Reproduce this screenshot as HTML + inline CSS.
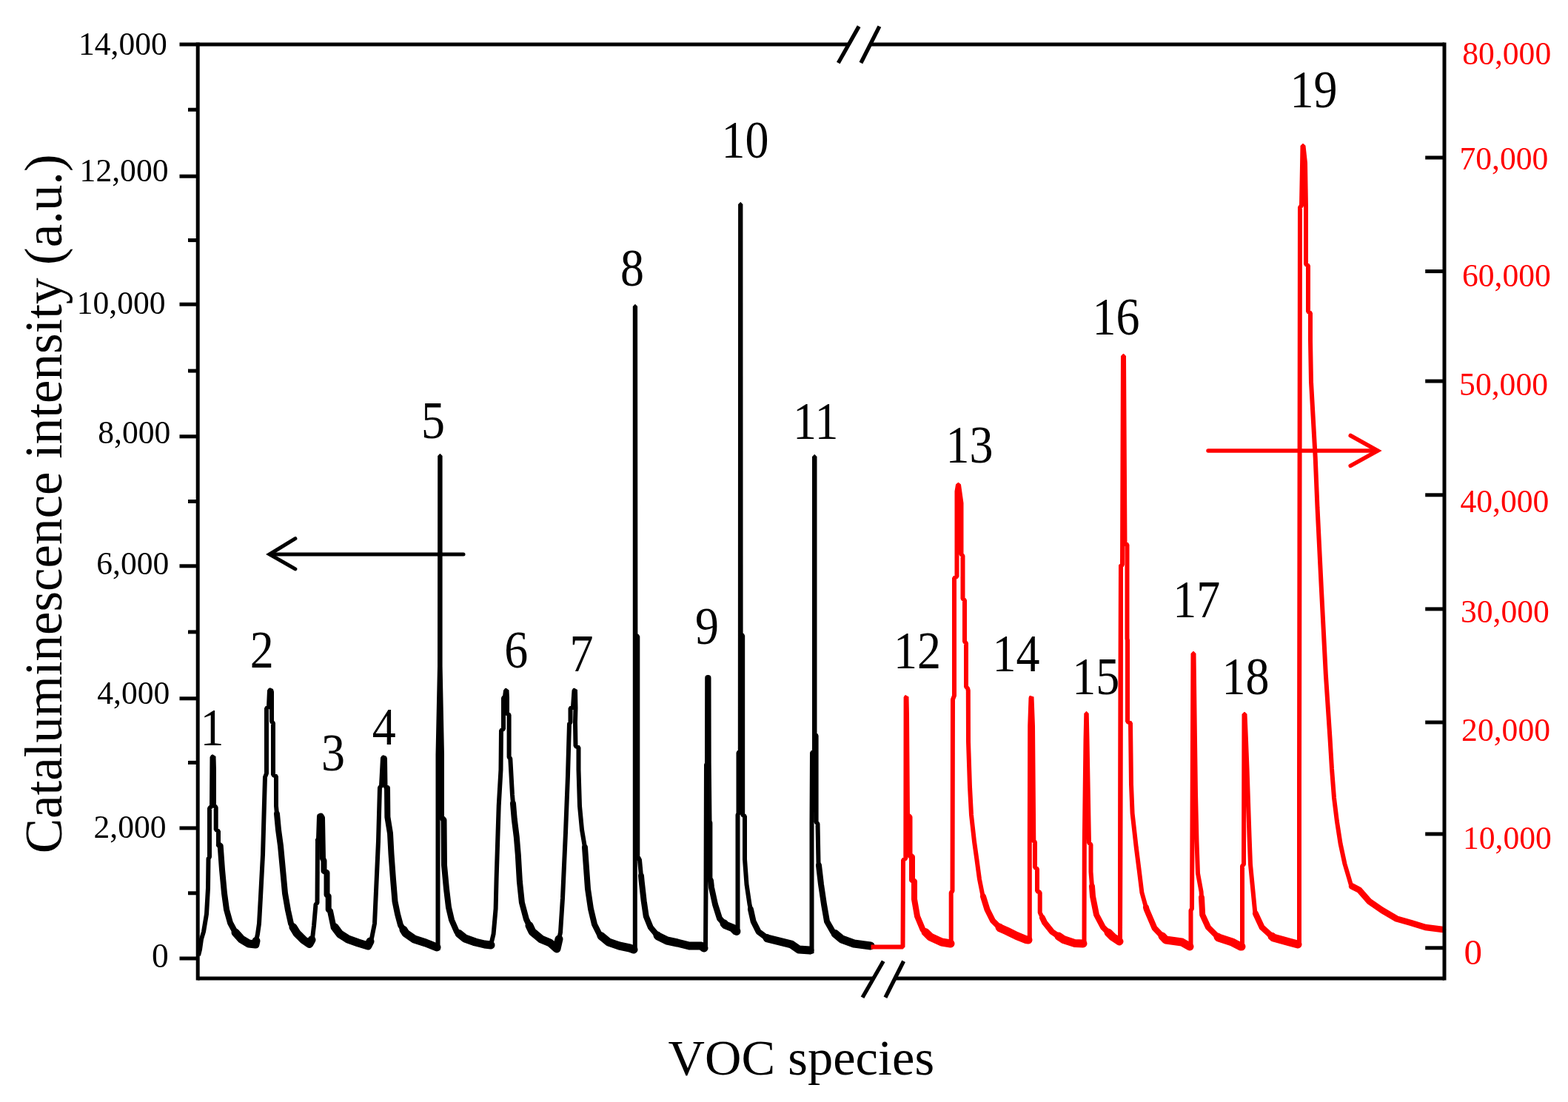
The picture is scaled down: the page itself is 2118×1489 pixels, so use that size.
<!DOCTYPE html><html><head><meta charset="utf-8"><title>VOC species chart</title>
<style>html,body{margin:0;padding:0;background:#fff;overflow:hidden;}svg{display:block;}text{font-family:"Liberation Serif",serif;}</style></head><body>
<svg width="2118" height="1489" viewBox="0 0 2118 1489">
<rect width="2118" height="1489" fill="#fff"/>
<polyline points="268,1291 270,1283 272,1269 275,1259 279,1235 281,1200 281.5,1160 283,1158 283,1092 286,1089 286.5,1023 288.5,1022 289,1040 289,1088 291.7,1091 291.7,1121 295,1123 295,1141 297.7,1143 300,1175 303,1207 306,1229 311,1247 318,1260 326,1269 336,1275 345,1276 348,1262 350,1248 352,1212 355,1155 358,1050 360,1045 360,957 363,955 364,933 366,932 367,935 367,975 369,977 369,1047 373,1049 373,1089 376,1121 379,1143 382,1175 385,1207 389,1230 393,1248 401,1261 410,1270 418,1275.5 422,1268 424,1251 426.5,1222 428.5,1220 429,1136 431,1134 432,1103 433.5,1102.5 435,1105 436,1160 437.5,1163 437.5,1177 441.5,1179 441.5,1209 443.7,1211 443.7,1229 446,1231 450,1250 459,1262 470,1269 484,1274 497,1278 502,1268 506,1248 508,1204 511,1137 513,1064 515,1062 517,1024 519,1023 520,1025 520.5,1063 523,1065 523.4,1104 527,1126 528.5,1154 531,1188 533.5,1218 537,1235 541,1250 548,1261 559.5,1269 575,1274 590,1280 591.5,1284 591.5,1020 594,900 594.2,616 594.6,616 594.6,900 597,1020 597,1105 599.5,1108 600,1169 603,1201 606,1226 610,1243 617,1259 628,1268 642,1273 654.5,1276 663,1277 666.6,1262 669.6,1228 670.6,1187 673.7,1089 676.5,1040 677,987 680,985 680,943 682,941 683,933 684.5,932.6 685,943 685,964 687.6,966 687.6,1023 689.3,1025 692,1074 694.8,1107 697.8,1131 699.8,1155 701.9,1191 704.9,1219.5 710.9,1242 719,1259 731,1269 743,1274 752,1282 757,1260 760,1213.5 764,1125 767,1048 769,978 770.5,976 770.5,957 774,955 775.5,933 777,932 777.5,957 777,976 777.5,1008 781.5,1010 781.5,1040 783,1089 786,1121 790,1145 792,1173 794,1201 798,1228 803,1249 810,1263 822,1273 836.5,1278 850.6,1281 856,1283 857.8,1285 857.8,860 857.8,414 858.1,414 858.4,858 861.3,860 861.3,1157 864,1162 866.7,1191 869.7,1217.5 872.7,1238 878.8,1253 888.8,1265 901,1271 915,1274 931,1278 947,1278 951,1281 953,1282 953.5,1200 954,1033 956,1031 956.2,916 956.5,916 956.7,1031 957.5,1110 958.4,1112 958.4,1187 960,1190 961,1199 966,1222 972,1241 980,1250 990,1254 994,1258 996.5,1259 996.5,1101 997.5,1099 997.5,1017 999.8,1015 1000.1,276 1000.4,276 1000.6,857 1003.2,859 1003.2,1101 1006,1103 1006,1161 1008.5,1195 1012.5,1222 1017.6,1245 1024.6,1259 1036.7,1268 1052.8,1272 1068.9,1276 1079,1283 1094,1284 1096.5,1288 1096.5,1111 1097,1017 1100,1015 1100,617 1100.5,617 1100.5,992 1102.6,994 1102.6,1111 1104.5,1113 1105.5,1165 1109,1195 1113,1222 1117,1245 1125,1259 1137,1269 1153.5,1275 1176.5,1278" fill="none" stroke="#000" stroke-width="6.0" stroke-linejoin="bevel"/>
<polyline points="296,1141.74 297.7,1143 300,1175 303,1207 306,1229 311,1247 318,1260 326,1269 336,1275 345,1276 346,1271.33" fill="none" stroke="#000" stroke-width="8" stroke-linejoin="round" stroke-linecap="round"/>
<polyline points="374,1099.67 376,1121 379,1143 382,1175 385,1207 389,1230 393,1248 401,1261 410,1270 418,1275.5 421,1269.88" fill="none" stroke="#000" stroke-width="8" stroke-linejoin="round" stroke-linecap="round"/>
<polyline points="430,1135 431,1134 432,1103 433.5,1102.5 435,1105 436,1160 437.5,1163 437.5,1177 441.5,1179 441.5,1209 443.7,1211 443.7,1229 446,1231 450,1250 459,1262 470,1269 484,1274 497,1278 500,1272" fill="none" stroke="#000" stroke-width="8" stroke-linejoin="round" stroke-linecap="round"/>
<polyline points="523,1065 523,1065 523.4,1104 527,1126 528.5,1154 531,1188 533.5,1218 537,1235 541,1250 548,1261 559.5,1269 575,1274 590,1280 590,1280" fill="none" stroke="#000" stroke-width="8" stroke-linejoin="round" stroke-linecap="round"/>
<polyline points="598,1106.2 599.5,1108 600,1169 603,1201 606,1226 610,1243 617,1259 628,1268 642,1273 654.5,1276 663,1277 663,1277" fill="none" stroke="#000" stroke-width="8" stroke-linejoin="round" stroke-linecap="round"/>
<polyline points="693,1085.79 694.8,1107 697.8,1131 699.8,1155 701.9,1191 704.9,1219.5 710.9,1242 719,1259 731,1269 743,1274 752,1282 755,1268.8" fill="none" stroke="#000" stroke-width="8" stroke-linejoin="round" stroke-linecap="round"/>
<polyline points="790,1145 790,1145 792,1173 794,1201 798,1228 803,1249 810,1263 822,1273 836.5,1278 850.6,1281 856,1283 856,1283" fill="none" stroke="#000" stroke-width="8" stroke-linejoin="round" stroke-linecap="round"/>
<polyline points="866,1183.48 866.7,1191 869.7,1217.5 872.7,1238 878.8,1253 888.8,1265 901,1271 915,1274 931,1278 947,1278 951,1281 951,1281" fill="none" stroke="#000" stroke-width="8" stroke-linejoin="round" stroke-linecap="round"/>
<polyline points="956,1031 956,1031 956.2,916 956.5,916 956.7,1031 957.5,1110 958.4,1112 958.4,1187 960,1190 961,1199 966,1222 972,1241 980,1250 990,1254 994,1258 995,1258.4" fill="none" stroke="#000" stroke-width="8" stroke-linejoin="round" stroke-linecap="round"/>
<polyline points="1014,1228.76 1017.6,1245 1024.6,1259 1036.7,1268 1052.8,1272 1068.9,1276 1079,1283 1094,1284 1094,1284" fill="none" stroke="#000" stroke-width="8" stroke-linejoin="round" stroke-linecap="round"/>
<polyline points="1106,1169.29 1109,1195 1113,1222 1117,1245 1125,1259 1137,1269 1153.5,1275 1176,1277.93" fill="none" stroke="#000" stroke-width="8" stroke-linejoin="round" stroke-linecap="round"/>
<polyline points="318,1260 318,1260 326,1269 336,1275 345,1276 346,1271.33" fill="none" stroke="#000" stroke-width="11" stroke-linejoin="round" stroke-linecap="round"/>
<polyline points="396,1252.88 401,1261 410,1270 418,1275.5 421,1269.88" fill="none" stroke="#000" stroke-width="11" stroke-linejoin="round" stroke-linecap="round"/>
<polyline points="452,1252.67 459,1262 470,1269 484,1274 497,1278 500,1272" fill="none" stroke="#000" stroke-width="11" stroke-linejoin="round" stroke-linecap="round"/>
<polyline points="545,1256.29 548,1261 559.5,1269 575,1274 590,1280 590,1280" fill="none" stroke="#000" stroke-width="11" stroke-linejoin="round" stroke-linecap="round"/>
<polyline points="620,1261.45 628,1268 642,1273 654.5,1276 663,1277 663,1277" fill="none" stroke="#000" stroke-width="11" stroke-linejoin="round" stroke-linecap="round"/>
<polyline points="715,1250.6 719,1259 731,1269 743,1274 752,1282 755,1268.8" fill="none" stroke="#000" stroke-width="11" stroke-linejoin="round" stroke-linecap="round"/>
<polyline points="812,1264.67 822,1273 836.5,1278 850.6,1281 856,1283 856,1283" fill="none" stroke="#000" stroke-width="11" stroke-linejoin="round" stroke-linecap="round"/>
<polyline points="888,1264.04 888.8,1265 901,1271 915,1274 931,1278 947,1278 951,1281 951,1281" fill="none" stroke="#000" stroke-width="11" stroke-linejoin="round" stroke-linecap="round"/>
<polyline points="978,1247.75 980,1250 990,1254 994,1258 995,1258.4" fill="none" stroke="#000" stroke-width="11" stroke-linejoin="round" stroke-linecap="round"/>
<polyline points="1036,1267.48 1036.7,1268 1052.8,1272 1068.9,1276 1079,1283 1094,1284 1094,1284" fill="none" stroke="#000" stroke-width="11" stroke-linejoin="round" stroke-linecap="round"/>
<polyline points="1128,1261.5 1137,1269 1153.5,1275 1176,1277.93" fill="none" stroke="#000" stroke-width="11" stroke-linejoin="round" stroke-linecap="round"/>
<polyline points="1176.5,1279.5 1219.5,1279.5 1220,1162 1223.3,1160 1223.6,942 1224.5,941.5 1225,966 1226,1102 1228.5,1104 1228.5,1155 1232,1158 1232,1189 1235,1191 1235,1215 1239,1238 1246.5,1256 1256.7,1266 1272,1273 1284,1275 1284.7,1275 1284.7,1206 1286.5,1204 1287,945 1289,940 1289,781 1292.5,779 1292.5,664 1294,655 1295,655 1298.5,680 1298.5,749 1300.5,751 1300.5,809 1303,811 1303,867 1305,869 1305,928 1307,930 1307.8,933 1308,1002 1310,1063 1312,1101 1316,1137 1319.5,1162 1323,1188 1327,1208 1333.5,1229 1341,1244 1351,1254 1360,1258 1373,1264.4 1385.5,1269.5 1389,1270 1390.8,1271 1390.8,1137 1391.2,981 1392.5,943 1393.5,941.5 1395,981 1396.3,1136 1398,1138 1398,1172 1401,1174 1401,1204 1404.7,1206 1404.7,1233 1411,1246.5 1421,1259 1436.5,1269.5 1452,1274.6 1463,1275 1464.5,1275 1464.8,1140 1466.5,1000 1467.3,964 1467.7,964 1468.5,1000 1471,1139 1473.5,1141 1473.5,1178 1476,1211 1481,1236 1490,1253 1503,1266 1512,1272 1513,1272 1514,765 1516,763 1517,481 1518,481 1519.5,734 1522.5,736 1522.5,863 1523,865 1523,975 1527,977 1528,1060 1529.6,1099 1534.7,1144.5 1538.6,1175 1542.4,1206 1548.8,1229 1559.5,1254 1574.7,1270 1596.4,1273 1607,1279 1608.5,1279 1608.5,1230 1610,1228 1611.5,883 1612.5,883 1614,1000 1615,1072 1616.5,1137 1618,1180 1622.6,1205 1624.2,1236 1632,1253 1646,1267 1664.4,1273 1676,1279 1678,1279 1678,1170 1680,1168 1680.5,965 1681.5,965 1683,1000 1684.5,1038 1687.6,1131 1689,1168 1692,1199 1695.3,1233 1704.6,1253 1720,1267 1741.7,1273 1753,1276 1755,1276 1755,1060 1756,280 1758,278 1759.5,197 1760.5,197 1763,220 1764,280 1764,357 1767,359 1767,421 1770,423 1770,460 1771,516 1776.7,618 1779.5,686 1785,798 1790.8,911 1796.4,996 1799,1039 1802,1078 1805.8,1109 1810.6,1140 1816.5,1167.5 1822.3,1187 1825.2,1197 1836,1202.5 1849.6,1218 1867,1230 1886.6,1241.5 1906,1247 1925.5,1253 1949,1256" fill="none" stroke="#f00" stroke-width="6.0" stroke-linejoin="bevel"/>
<polyline points="1228,1103.6 1228.5,1104 1228.5,1155 1232,1158 1232,1189 1235,1191 1235,1215 1239,1238 1246.5,1256 1256.7,1266 1272,1273 1284,1275 1284,1275" fill="none" stroke="#f00" stroke-width="8" stroke-linejoin="round" stroke-linecap="round"/>
<polyline points="1328,1211.23 1333.5,1229 1341,1244 1351,1254 1360,1258 1373,1264.4 1385.5,1269.5 1389,1270 1389,1270" fill="none" stroke="#f00" stroke-width="8" stroke-linejoin="round" stroke-linecap="round"/>
<polyline points="1408,1240.07 1411,1246.5 1421,1259 1436.5,1269.5 1452,1274.6 1463,1275 1463,1275" fill="none" stroke="#f00" stroke-width="8" stroke-linejoin="round" stroke-linecap="round"/>
<polyline points="1475,1197.8 1476,1211 1481,1236 1490,1253 1503,1266 1512,1272 1512,1272" fill="none" stroke="#f00" stroke-width="8" stroke-linejoin="round" stroke-linecap="round"/>
<polyline points="1548,1226.12 1548.8,1229 1559.5,1254 1574.7,1270 1596.4,1273 1607,1279 1607,1279" fill="none" stroke="#f00" stroke-width="8" stroke-linejoin="round" stroke-linecap="round"/>
<polyline points="1623,1212.75 1624.2,1236 1632,1253 1646,1267 1664.4,1273 1676,1279 1677,1279" fill="none" stroke="#f00" stroke-width="8" stroke-linejoin="round" stroke-linecap="round"/>
<polyline points="1696,1234.51 1704.6,1253 1720,1267 1741.7,1273 1753,1276 1753,1276" fill="none" stroke="#f00" stroke-width="8" stroke-linejoin="round" stroke-linecap="round"/>
<polyline points="1250,1259.43 1256.7,1266 1272,1273 1284,1275 1284,1275" fill="none" stroke="#f00" stroke-width="11" stroke-linejoin="round" stroke-linecap="round"/>
<polyline points="1350,1253 1351,1254 1360,1258 1373,1264.4 1385.5,1269.5 1389,1270 1389,1270" fill="none" stroke="#f00" stroke-width="11" stroke-linejoin="round" stroke-linecap="round"/>
<polyline points="1430,1265.1 1436.5,1269.5 1452,1274.6 1463,1275 1463,1275" fill="none" stroke="#f00" stroke-width="11" stroke-linejoin="round" stroke-linecap="round"/>
<polyline points="1497,1260 1503,1266 1512,1272 1512,1272" fill="none" stroke="#f00" stroke-width="11" stroke-linejoin="round" stroke-linecap="round"/>
<polyline points="1570,1265.05 1574.7,1270 1596.4,1273 1607,1279 1607,1279" fill="none" stroke="#f00" stroke-width="11" stroke-linejoin="round" stroke-linecap="round"/>
<polyline points="1645,1266 1646,1267 1664.4,1273 1676,1279 1677,1279" fill="none" stroke="#f00" stroke-width="11" stroke-linejoin="round" stroke-linecap="round"/>
<polyline points="1718,1265.18 1720,1267 1741.7,1273 1753,1276 1753,1276" fill="none" stroke="#f00" stroke-width="11" stroke-linejoin="round" stroke-linecap="round"/>
<polyline points="1826,1197.41 1836,1202.5 1849.6,1218 1867,1230 1886.6,1241.5 1906,1247 1925.5,1253 1949,1256" fill="none" stroke="#f00" stroke-width="8.5" stroke-linejoin="round" stroke-linecap="round"/>
<g stroke="#000" stroke-width="5" fill="none" stroke-linecap="square"><line x1="267.2" y1="60" x2="267.2" y2="1322"/><line x1="1951" y1="60" x2="1951" y2="1322"/><line x1="267.2" y1="60" x2="1146.4" y2="60" stroke-linecap="butt"/><line x1="1175.6" y1="60" x2="1951" y2="60" stroke-linecap="butt"/><line x1="267.2" y1="1322" x2="1179.8" y2="1322" stroke-linecap="butt"/><line x1="1208.9" y1="1322" x2="1951" y2="1322" stroke-linecap="butt"/></g><g stroke="#000" stroke-width="5.3" stroke-linecap="butt"><line x1="1132.3" y1="85" x2="1160.2" y2="35.6"/><line x1="1162.9" y1="85" x2="1187.9" y2="35.6"/><line x1="1165" y1="1347.7" x2="1193.2" y2="1298.8"/><line x1="1195.9" y1="1347.7" x2="1220.6" y2="1298.8"/></g><g stroke="#000" stroke-width="5"><line x1="242.5" y1="1295" x2="267.2" y2="1295"/><line x1="242.5" y1="1118.9" x2="267.2" y2="1118.9"/><line x1="242.5" y1="943.8" x2="267.2" y2="943.8"/><line x1="242.5" y1="764.8" x2="267.2" y2="764.8"/><line x1="242.5" y1="589.8" x2="267.2" y2="589.8"/><line x1="242.5" y1="411.2" x2="267.2" y2="411.2"/><line x1="242.5" y1="238.2" x2="267.2" y2="238.2"/><line x1="242.5" y1="60" x2="267.2" y2="60"/><line x1="254" y1="1206.8" x2="267.2" y2="1206.8"/><line x1="254" y1="1030.4" x2="267.2" y2="1030.4"/><line x1="254" y1="853.9" x2="267.2" y2="853.9"/><line x1="254" y1="677.5" x2="267.2" y2="677.5"/><line x1="254" y1="501.1" x2="267.2" y2="501.1"/><line x1="254" y1="324.6" x2="267.2" y2="324.6"/><line x1="254" y1="148.2" x2="267.2" y2="148.2"/><line x1="1925.2" y1="1280.8" x2="1951" y2="1280.8"/><line x1="1925.2" y1="1126.9" x2="1951" y2="1126.9"/><line x1="1925.2" y1="976" x2="1951" y2="976"/><line x1="1925.2" y1="822.9" x2="1951" y2="822.9"/><line x1="1925.2" y1="668.8" x2="1951" y2="668.8"/><line x1="1925.2" y1="515" x2="1951" y2="515"/><line x1="1925.2" y1="366.6" x2="1951" y2="366.6"/><line x1="1925.2" y1="213" x2="1951" y2="213"/></g>
<g font-size="43.6" fill="#000"><text x="105.9" y="74.4">14,000</text><text x="107.6" y="244.6">12,000</text><text x="103.7" y="423.8">10,000</text><text x="132.3" y="598.8">8,000</text><text x="130.2" y="775.9">6,000</text><text x="131.2" y="950.8">4,000</text><text x="126.5" y="1131.6">2,000</text></g><g font-size="43.6" fill="#f00"><text x="1975.3" y="86.6">80,000</text><text x="1971.5" y="228.6">70,000</text><text x="1974.9" y="386.5">60,000</text><text x="1971.1" y="534.1">50,000</text><text x="1972.4" y="692.4">40,000</text><text x="1973.0" y="840.8">30,000</text><text x="1974.1" y="1000.5">20,000</text><text x="1976.0" y="1146.7">10,000</text></g><text x="205.1" y="1306.5" font-size="45.5" fill="#000">0</text><text x="1977.4" y="1302.5" font-size="49" fill="#f00">0</text>
<text transform="translate(82.5,1153.3) rotate(-90) scale(1,1.02)" font-size="70.9" fill="#000">Cataluminescence intensity (a.u.)</text>
<text transform="translate(902.6,1451.8) scale(1,0.98)" font-size="68.5" fill="#000">VOC species</text>
<g stroke="#000" stroke-width="5" fill="none" stroke-linecap="round"><line x1="365" y1="749" x2="626" y2="749"/><polyline points="398.9,727.7 364,749 398.9,768.8" stroke-linejoin="miter"/></g>
<g stroke="#f00" stroke-width="5.5" fill="none" stroke-linecap="round"><line x1="1632" y1="609" x2="1860" y2="609"/><polyline points="1824.2,588.5 1861,609 1824.2,629.3" stroke-linejoin="miter"/></g>
<g font-size="64.0" fill="#000" text-anchor="middle"><text transform="translate(286.4,1006.8) scale(1,1.124)">1</text><text transform="translate(353.8,902.1) scale(1,1.124)">2</text><text transform="translate(449.9,1041.2) scale(1,1.124)">3</text><text transform="translate(518.7,1006.4) scale(1,1.124)">4</text><text transform="translate(585.0,591.8) scale(1,1.124)">5</text><text transform="translate(697.3,901.5) scale(1,1.124)">6</text><text transform="translate(785.4,906.6) scale(1,1.124)">7</text><text transform="translate(854.1,385.8) scale(1,1.124)">8</text><text transform="translate(955.0,869.8) scale(1,1.124)">9</text><text transform="translate(1006.4,213.3) scale(1,1.124)">10</text><text transform="translate(1101.8,592.6) scale(1,1.124)">11</text><text transform="translate(1239.0,902.6) scale(1,1.124)">12</text><text transform="translate(1309.5,625.3) scale(1,1.124)">13</text><text transform="translate(1372.4,906.7) scale(1,1.124)">14</text><text transform="translate(1480.3,938.0) scale(1,1.124)">15</text><text transform="translate(1507.4,452.0) scale(1,1.124)">16</text><text transform="translate(1616.2,833.8) scale(1,1.124)">17</text><text transform="translate(1682.4,937.8) scale(1,1.124)">18</text><text transform="translate(1774.6,144.5) scale(1,1.124)">19</text></g>
<polyline points="1513,1272 1514,765 1516,763" fill="none" stroke="#f00" stroke-width="6.0"/>
</svg></body></html>
